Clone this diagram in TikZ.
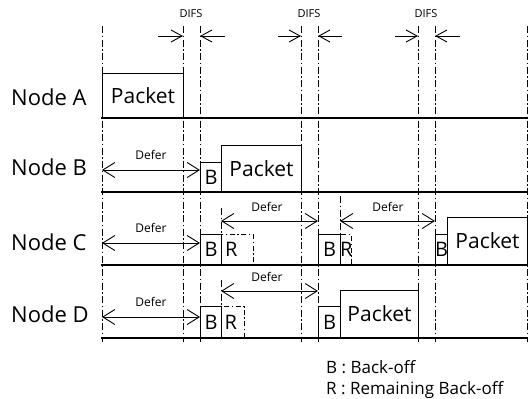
\documentclass[tikz,border=0pt]{standalone}
\usepackage{fontspec}
\setmainfont{Open Sans}
\usetikzlibrary{arrows.meta}
\begin{document}
\begin{tikzpicture}[x=1pt,y=-1pt,
  vline/.style={line width=0.75pt, dash pattern=on 7pt off 2.5pt on 1.5pt off 2.5pt},
  tline/.style={line width=1.3pt},
  box/.style={draw, line width=1pt, inner sep=0pt, anchor=south west},
  rbox/.style={draw, line width=0.8pt, dash pattern=on 5pt off 2.5pt on 1.5pt off 2.5pt, inner sep=0pt, anchor=south west},
  pk/.style={font=\fontsize{21}{24}\selectfont, inner sep=0pt},
  bt/.style={font=\fontsize{20}{24}\selectfont, inner sep=0pt},
  nodelbl/.style={font=\fontsize{22}{26}\selectfont, anchor=base west, inner sep=0pt},
  deferlbl/.style={font=\fontsize{12}{14}\selectfont, inner sep=0pt},
  difslbl/.style={font=\fontsize{11}{13}\selectfont, inner sep=0pt},
  legend/.style={font=\fontsize{17}{21}\selectfont, anchor=base west, inner sep=0pt},
  darr/.style={line width=0.9pt, {Straight Barb[length=12pt,width=15pt]}-{Straight Barb[length=12pt,width=15pt]}},
  sarr/.style={line width=0.9pt, -{Straight Barb[length=11pt,width=12pt]}}
]
\useasboundingbox (0,0) rectangle (528,399);

% vertical dash-dot time marks
\foreach \i/\x in {1/102,2/183,3/200,4/301,5/318,6/418,7/435,8/527}{
  \coordinate (t\i) at (\x,26);
  \coordinate (u\i) at (\x,342);
  \draw[vline] (t\i) -- (u\i);
}

% horizontal time lines
\foreach \n/\y in {a/118,b/192,c/265,d/338}{
  \coordinate (l\n) at (101,\y);
  \coordinate (r\n) at (528,\y);
  \draw[tline] (l\n) -- (r\n);
}

% node labels
\node[nodelbl] (na) at (11,105) {Node A};
\node[nodelbl] (nb) at (11,175) {Node B};
\node[nodelbl] (nc) at (11,250) {Node C};
\node[nodelbl] (nd) at (11,322) {Node D};

% DIFS
\coordinate (d1a) at (158,36); \coordinate (d1b) at (183,36);
\coordinate (d1c) at (225,36); \coordinate (d1d) at (200,36);
\coordinate (d2a) at (278,36); \coordinate (d2b) at (301,36);
\coordinate (d2c) at (342,36); \coordinate (d2d) at (318,36);
\coordinate (d3a) at (395,36); \coordinate (d3b) at (418,36);
\coordinate (d3c) at (460,36); \coordinate (d3d) at (435,36);
\foreach \k in {1,2,3}{
  \draw[sarr] (d\k a) -- (d\k b);
  \draw[sarr] (d\k c) -- (d\k d);
}
\node[difslbl] (df1) at (191,14) {DIFS};
\node[difslbl] (df2) at (309,14) {DIFS};
\node[difslbl] (df3) at (426,14) {DIFS};

% Node A
\node[box, minimum width=81pt, minimum height=44pt] (pa) at (102,118) {};
\node[pk] at (pa.center) {Packet};

% Node B
\node[box, minimum width=21pt, minimum height=29pt] (bb) at (200,192) {};
\node[bt] at (bb.center) {B};
\node[box, minimum width=80pt, minimum height=46pt] (pb) at (221,192) {};
\node[pk] at (pb.center) {Packet};
\coordinate (bdl) at (102,170); \coordinate (bdr) at (200,170);
\draw[darr] (bdl) -- (bdr);
\node[deferlbl] (bdt) at (151,155) {Defer};

% Node C
\node[box, minimum width=21pt, minimum height=30pt] (cb1) at (200,265) {};
\node[bt] at (cb1.center) {B};
\node[rbox, minimum width=32pt, minimum height=30pt] (cr1) at (221,265) {};
\node[bt] at ([xshift=-6pt]cr1.center) {R};
\node[box, minimum width=22pt, minimum height=30pt] (cb2) at (318,265) {};
\node[bt] at (cb2.center) {B};
\node[rbox, minimum width=11pt, minimum height=30pt] (cr2) at (340,265) {};
\node[bt] at ([xshift=0.5pt]cr2.center) {R};
\node[box, minimum width=12pt, minimum height=30pt] (cb3) at (435,265) {};
\node[bt] at (cb3.center) {B};
\node[box, minimum width=80pt, minimum height=47pt] (pc) at (447,265) {};
\node[pk] at (pc.center) {Packet};

\coordinate (c1l) at (102,243); \coordinate (c1r) at (200,243);
\draw[darr] (c1l) -- (c1r);
\node[deferlbl] at (151,228) {Defer};
\coordinate (c2l) at (221,221); \coordinate (c2r) at (318,221);
\draw[darr] (c2l) -- (c2r);
\node[deferlbl] at (267,207) {Defer};
\coordinate (c3l) at (340,221); \coordinate (c3r) at (435,221);
\draw[darr] (c3l) -- (c3r);
\node[deferlbl] at (388,207) {Defer};
\coordinate (c2t) at (221,208);
\draw[vline] (c2t) -- (cr1.north west);
\coordinate (c3t) at (340,196);
\draw[vline] (c3t) -- (cr2.north west);

% Node D
\node[box, minimum width=21pt, minimum height=31pt] (db1) at (200,338) {};
\node[bt] at (db1.center) {B};
\node[rbox, minimum width=23pt, minimum height=31pt] (dr1) at (221,338) {};
\node[bt] at ([xshift=-2pt]dr1.center) {R};
\node[box, minimum width=22pt, minimum height=31pt] (db2) at (318,338) {};
\node[bt] at (db2.center) {B};
\node[box, minimum width=78pt, minimum height=47pt] (pd) at (340,338) {};
\node[pk] at (pd.center) {Packet};

\coordinate (d1l) at (102,317); \coordinate (d1r) at (200,317);
\draw[darr] (d1l) -- (d1r);
\node[deferlbl] at (151,302) {Defer};
\coordinate (d2l) at (221,291); \coordinate (d2r) at (318,291);
\draw[darr] (d2l) -- (d2r);
\node[deferlbl] at (267,277) {Defer};
\coordinate (d2t) at (221,280);
\draw[vline] (d2t) -- (dr1.north west);

% legend
\node[legend] (lg1) at (326,373) {B : Back-off};
\node[legend] (lg2) at (326,394) {R : Remaining Back-off};
\end{tikzpicture}
\end{document}
